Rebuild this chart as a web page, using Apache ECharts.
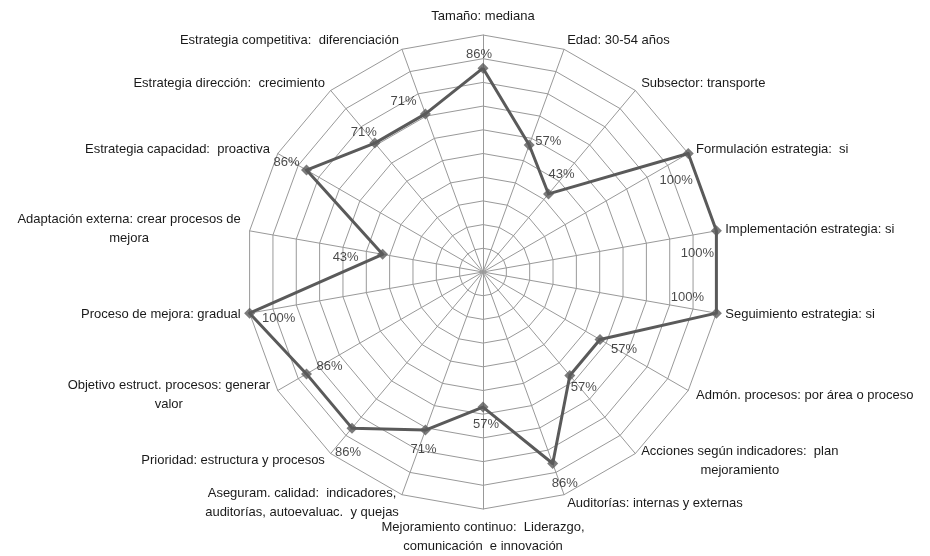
<!DOCTYPE html>
<html>
<head>
<meta charset="utf-8">
<script src="https://cdn.jsdelivr.net/npm/echarts@6/dist/echarts.min.js"></script>
<style>
  html, body { margin: 0; padding: 0; background: #ffffff; }
  #chart { width: 930px; height: 556px; }
</style>
</head>
<body>
<div id="chart"></div>
<script>
// Indicators, clockwise from the top
const categories = [
  'Tamaño: mediana',
  'Edad: 30-54 años',
  'Subsector: transporte',
  'Formulación estrategia:  si',
  'Implementación estrategia: si',
  'Seguimiento estrategia: si',
  'Admón. procesos: por área o proceso',
  'Acciones según indicadores:  plan\nmejoramiento',
  'Auditorías: internas y externas',
  'Mejoramiento continuo:  Liderazgo,\ncomunicación  e innovación',
  'Aseguram. calidad:  indicadores,\nauditorías, autoevaluac.  y quejas',
  'Prioridad: estructura y procesos',
  'Objetivo estruct. procesos: generar\nvalor',
  'Proceso de mejora: gradual',
  'Adaptación externa: crear procesos de\nmejora',
  'Estrategia capacidad:  proactiva',
  'Estrategia dirección:  crecimiento',
  'Estrategia competitiva:  diferenciación'
];

// Share of firms (%) for each indicator
const values = [86, 57, 43, 100, 100, 100, 57, 57, 86, 57, 71, 86, 86, 100, 43, 86, 71, 71];

// Where each value label sits relative to its marker [dx, dy]
const labelOffsets = [
  [-4, -14], [19, -4], [13, -20], [-12, 27], [-19, 23], [-29, -16],
  [24, 10], [14, 12], [12, 20], [3, 17], [-2, 19], [-4, 24],
  [23, -7], [29, 5], [-37, 3], [-20, -8], [-11, -11], [-22, -12]
];

const FONT = '"Liberation Sans", Arial, sans-serif';
const FONT_SIZE = 13;
const TEXT = '#1a1a1a';
const LINE = '#5a5a5a';
const GRID = '#999999';
const CX = 483, CY = 272, R = 237;

// ECharts radar lays indicators out counter-clockwise, so feed them in reverse
const n = categories.length;
const order = categories.map((_, i) => (n - i) % n);
const radarIndicators = order.map(i => ({ name: categories[i], min: 0, max: 100 }));
const radarValues = order.map(i => values[i]);

const chart = echarts.init(document.getElementById('chart'), null, { renderer: 'canvas' });

chart.setOption({
  backgroundColor: '#ffffff',
  animation: false,
  textStyle: { fontFamily: FONT },
  radar: {
    center: [CX, CY],
    radius: R,
    startAngle: 90,
    shape: 'polygon',
    splitNumber: 10,
    axisNameGap: 9,
    indicator: radarIndicators,
    axisName: {
      color: TEXT,
      fontFamily: FONT,
      fontSize: FONT_SIZE,
      formatter: name => String(name).split('\n').map(line => '{c|' + line + '}').join('\n'),
      rich: {
        c: { align: 'center', color: TEXT, fontFamily: FONT, fontSize: FONT_SIZE, lineHeight: 19 }
      }
    },
    axisLine: { show: true, lineStyle: { color: GRID, width: 1 } },
    splitLine: { show: true, lineStyle: { color: GRID, width: 1 } },
    splitArea: { show: false },
    axisTick: { show: false },
    axisLabel: { show: false }
  },
  polar: { center: [CX, CY], radius: R },
  angleAxis: {
    type: 'category',
    data: categories,
    startAngle: 90,
    clockwise: true,
    boundaryGap: false,
    show: false
  },
  radiusAxis: { type: 'value', min: 0, max: 100, show: false },
  series: [
    {
      type: 'radar',
      symbol: 'none',
      lineStyle: { color: LINE, width: 3 },
      itemStyle: { color: LINE },
      data: [{ value: radarValues }]
    },
    {
      type: 'scatter',
      coordinateSystem: 'polar',
      symbol: 'diamond',
      symbolSize: 11,
      itemStyle: { color: LINE },
      data: values.map((v, i) => ({
        value: [v, i],
        label: {
          show: true,
          position: 'inside',
          offset: labelOffsets[i],
          formatter: p => p.value[0] + '%',
          color: TEXT,
          fontFamily: FONT,
          fontSize: FONT_SIZE
        }
      }))
    }
  ]
});
</script>
</body>
</html>
